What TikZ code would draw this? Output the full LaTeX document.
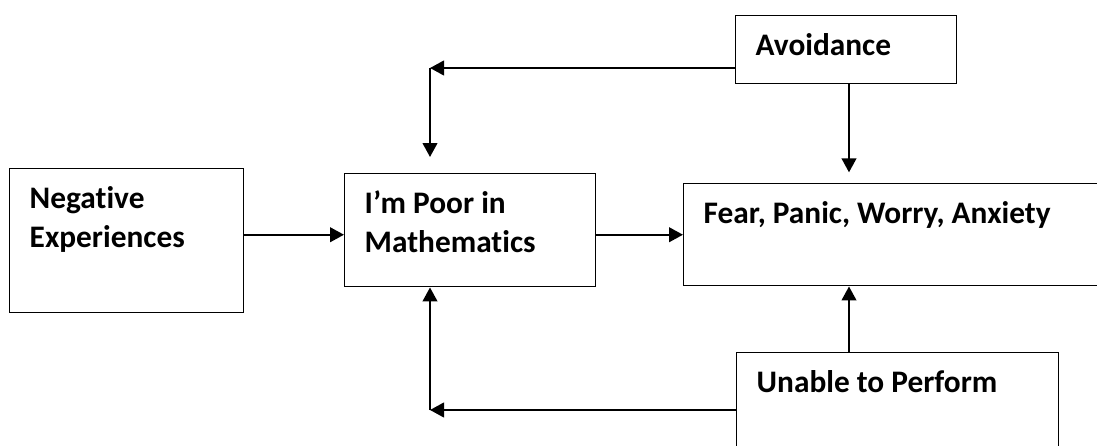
\documentclass[tikz,border=0pt]{standalone}
\usepackage{fontspec}
\setmainfont{Carlito}[Ligatures=NoCommon]
\usetikzlibrary{arrows.meta}

\tikzset{
  stage/.style={draw, line width=1.1pt, rectangle, anchor=north west,
    inner xsep=15pt, inner ysep=0pt, text height=30pt, align=flush left,
    font=\bfseries\fontsize{23.5pt}{28.9pt}\selectfont},
  flow/.style={line width=1.6pt, -{Triangle[length=10.5pt,width=11pt]}}
}

\begin{document}
\begin{tikzpicture}[x=0.75pt, y=-0.75pt]
        \useasboundingbox (0,0) rectangle (1097,446);
        \clip (0,0) rectangle (1097,446);

        % Boxes
        \node[stage, text width=145.5pt, text depth=78pt] (neg) at (9,168) {Negative\\Experiences};
        \node[stage, text width=158.25pt, text depth=54.75pt] (poor) at (344,173) {I’m Poor in\\Mathematics};
        \node[stage, text width=290pt, text depth=46.5pt] (fear) at (683,183) {Fear, Panic, Worry, Anxiety};
        \node[stage, text width=135.75pt, text depth=21pt] (avoid) at (735,15) {Avoidance};
        \node[stage, text width=211.5pt, text depth=58.5pt] (unable) at (736,352) {Unable to Perform};

        % Corners of the loops
        \coordinate (topturn) at (430,68);
        \coordinate (lowturn) at (430,410);
        \coordinate (spine) at (849,0);

        % Main line
        \draw[flow] (neg.east |- fear.west) -- (poor.west |- fear.west);
        \draw[flow] (poor.east |- fear.west) -- (fear.west);

        % Avoidance loop
        \draw[flow] (avoid.west |- topturn) -- (topturn);
        \draw[flow, shorten >=12pt] (topturn) -- (topturn |- poor.north);
        \draw[flow, shorten >=8pt] (avoid.south -| spine) -- (fear.north -| spine);

        % Performance loop
        \draw[flow] (unable.north -| spine) -- (fear.south -| spine);
        \draw[flow] (unable.west |- lowturn) -- (lowturn);
        \draw[flow] (lowturn) -- (lowturn |- poor.south);
\end{tikzpicture}
\end{document}
